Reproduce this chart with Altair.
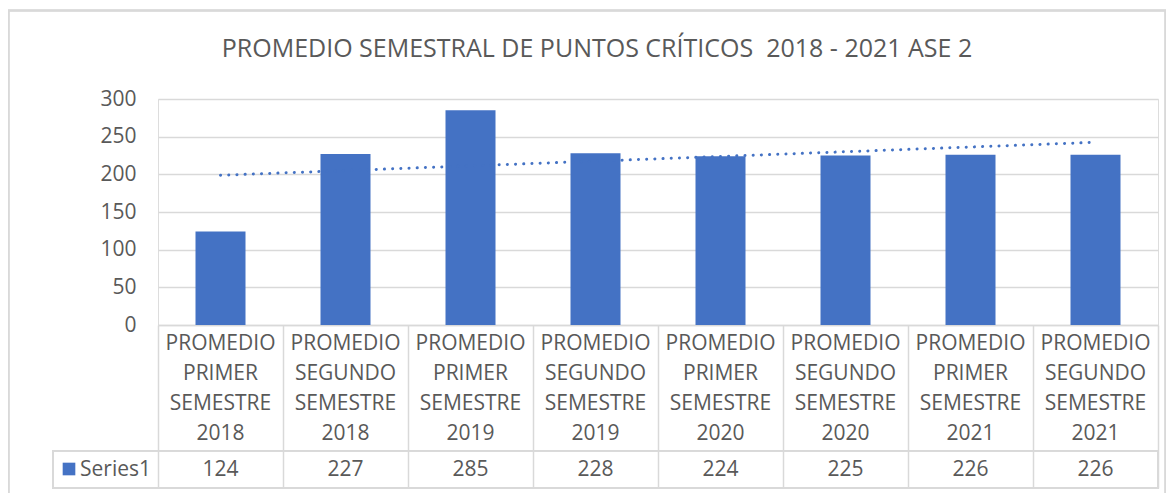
import json
import altair as alt
import pandas as pd

title_text = "PROMEDIO SEMESTRAL DE PUNTOS CRÍTICOS\u00a0 2018 - 2021 ASE 2"
categories = [
    "PROMEDIO PRIMER SEMESTRE 2018",
    "PROMEDIO SEGUNDO SEMESTRE 2018",
    "PROMEDIO PRIMER SEMESTRE 2019",
    "PROMEDIO SEGUNDO SEMESTRE 2019",
    "PROMEDIO PRIMER SEMESTRE 2020",
    "PROMEDIO SEGUNDO SEMESTRE 2020",
    "PROMEDIO PRIMER SEMESTRE 2021",
    "PROMEDIO SEGUNDO SEMESTRE 2021",
]
values = [124, 227, 285, 228, 224, 225, 226, 226]
series_name = "Series1"
y_ticks = [0, 50, 100, 150, 200, 250, 300]

BLUE = "#4472C4"
GRAY = "#595959"
LINE = "#d9d9d9"
FONT = "Open Sans"

df = pd.DataFrame({"category": categories, "value": values,
                   "idx": list(range(1, len(categories) + 1))})

xaxis = alt.Axis(title=None, labels=False, ticks=True, tickBand="extent",
                 tickSize=163, tickColor=LINE, tickWidth=1.5,
                 domain=True, domainColor=LINE, domainWidth=1.5, grid=False)
xscale = alt.Scale(paddingInner=0, paddingOuter=0)
yaxis = alt.Axis(title=None, values=y_ticks, grid=True, gridColor=LINE,
                 gridWidth=1.5, domain=False, ticks=False, labelOverlap=False,
                 labelFontSize=21, labelColor=GRAY, labelFont=FONT,
                 labelPadding=22)
yscale = alt.Scale(domain=[0, 300], nice=False)


def X():
    return alt.X("category:N", sort=categories, scale=xscale, axis=xaxis)


def Y():
    return alt.Y("value:Q", scale=yscale, axis=yaxis)


base = alt.Chart(df)

border = base.mark_rect(fill=None, stroke=LINE, strokeWidth=1.5).encode(
    x=alt.value(-149.5), x2=alt.value(1007.5), y=alt.value(-88.5), y2=alt.value(420))

title_df = pd.DataFrame({"t": [title_text]})
title = alt.Chart(title_df).mark_text(font=FONT, fontSize=25, color=GRAY,
                                      baseline="middle", align="center").encode(
    x=alt.value(439), y=alt.value(-50), text="t:N")

bars = base.mark_bar(color=BLUE, width=alt.RelativeBandSize(0.4)).encode(x=X(), y=Y())

trend = base.transform_regression("idx", "value").transform_calculate(
    category=f"{json.dumps(categories)}[round(datum.idx) - 1]"
).mark_line(color=BLUE, strokeWidth=3, strokeCap="round", strokeDash=[0.1, 8.1]).encode(
    x=X(), y=Y())

header_text = base.mark_text(font=FONT, fontSize=21, color=GRAY, lineBreak=" ",
                             lineHeight=30, baseline="middle").encode(
    x=X(), y=alt.value(245), text="category:N")

value_text = base.mark_text(font=FONT, fontSize=21, color=GRAY, baseline="middle").encode(
    x=X(), y=alt.value(370.5), text="value:Q")

row_box = base.mark_rect(fill=None, stroke=LINE, strokeWidth=1.5).encode(
    x=alt.value(-105), x2=alt.value(1000), y=alt.value(351.7), y2=alt.value(389))

legend_df = pd.DataFrame({"name": [series_name]})
swatch = alt.Chart(legend_df).mark_square(color=BLUE, size=160, opacity=1).encode(
    x=alt.value(-89), y=alt.value(370))
series_text = alt.Chart(legend_df).mark_text(font=FONT, fontSize=21, color=GRAY,
                                             align="left", baseline="middle").encode(
    x=alt.value(-78), y=alt.value(370.5), text="name:N")

chart = alt.layer(border, title, bars, trend, row_box, header_text, value_text,
                  swatch, series_text).properties(
    width=1000, height=226,
    autosize=alt.AutoSizeParams(type="none"),
    padding={"left": 150, "top": 91, "right": 8, "bottom": 168},
).configure_view(stroke=None).configure(background="white")

chart.save("out.html", embed_options={"renderer": "svg", "actions": False})
